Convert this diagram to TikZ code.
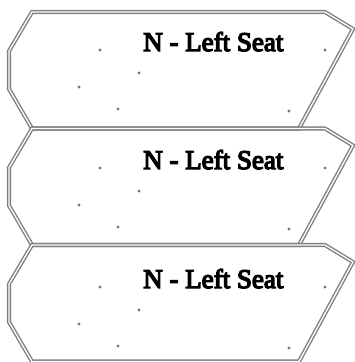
\documentclass[tikz,border=0pt]{standalone}
\usepackage{fontspec}
\newfontfamily\lblfont{Liberation Serif}[FakeBold=5]
\tikzset{
  seat/.style={draw={rgb,255:red,128;green,128;blue,128}, line width=1.4pt, double=white, double distance=1.3pt, line join=miter},
  dotmark/.style={circle, fill={rgb,255:red,120;green,120;blue,120}, inner sep=0pt, minimum size=3.3pt},
  lbl/.style={anchor=base west, inner sep=0pt, font=\lblfont\fontsize{27}{30}\selectfont}
}
\begin{document}
\begin{tikzpicture}[x=1pt,y=-1pt]
\useasboundingbox (0,0) rectangle (355,362);
\fill[white] (0,0) rectangle (355,362);
\foreach \t/\c/\n in {12/0/a,128.5/118/b,245/237/c}{
  \draw[seat] (32,\t) -- (325,\t) -- (353,\t+17) -- (299,\t+116.5) -- (32,\t+116.5) -- (9,\t+77) -- (9,\t+39) -- cycle;
  \node[lbl] (label\n) at (143,51+\c) {N - Left Seat};
  \node[dotmark] (d1\n) at (100,50+\c) {};
  \node[dotmark] (d2\n) at (139,73+\c) {};
  \node[dotmark] (d3\n) at (79,87+\c) {};
  \node[dotmark] (d4\n) at (118,109+\c) {};
  \node[dotmark] (d5\n) at (325,50+\c) {};
  \node[dotmark] (d6\n) at (289,111+\c) {};
}
\end{tikzpicture}
\end{document}
